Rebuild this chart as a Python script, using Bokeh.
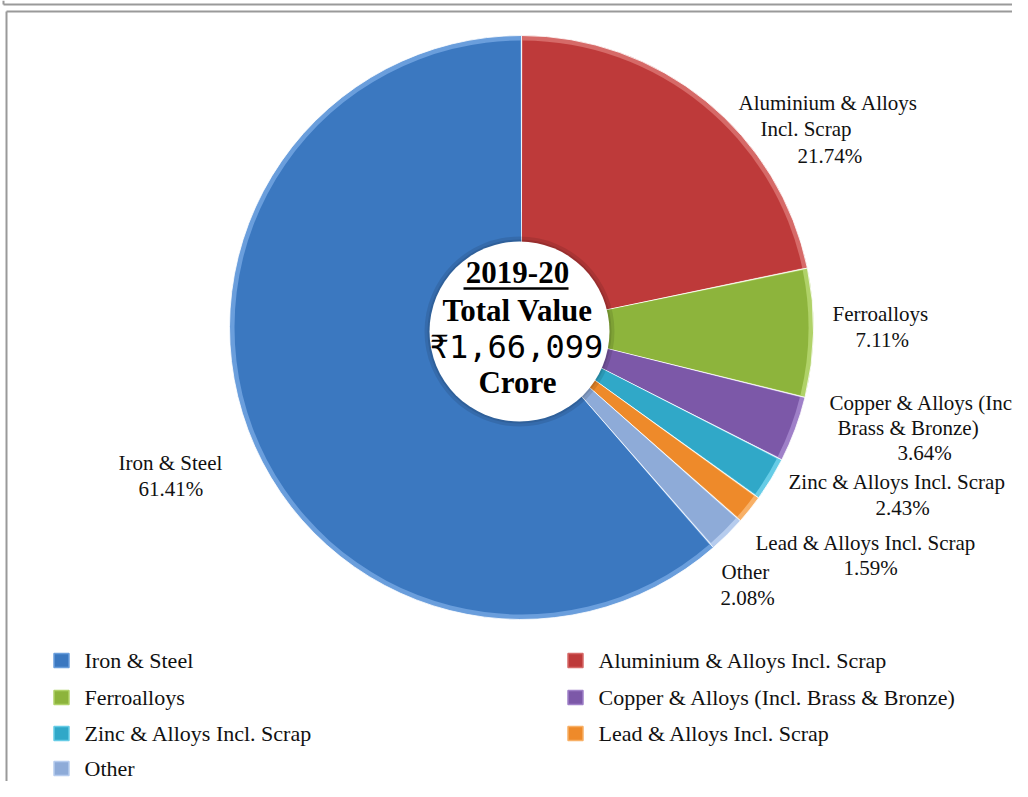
import math
from bokeh.plotting import figure
from bokeh.models import Range1d
from bokeh.embed import file_html
from bokeh.resources import INLINE
from bokeh.core.properties import value

# ---- data ----
categories = ["Aluminium & Alloys Incl. Scrap", "Ferroalloys",
              "Copper & Alloys (Incl. Brass & Bronze)", "Zinc & Alloys Incl. Scrap",
              "Lead & Alloys Incl. Scrap", "Other", "Iron & Steel"]
shares = [21.74, 7.11, 3.64, 2.43, 1.59, 2.08, 61.41]
label_names = [["Aluminium & Alloys", "Incl. Scrap"], ["Ferroalloys"],
               ["Copper & Alloys (Incl.", "Brass & Bronze)"], ["Zinc & Alloys Incl. Scrap"],
               ["Lead & Alloys Incl. Scrap"], ["Other"], ["Iron & Steel"]]
legend_order = ["Iron & Steel", "Aluminium & Alloys Incl. Scrap", "Ferroalloys",
                "Copper & Alloys (Incl. Brass & Bronze)", "Zinc & Alloys Incl. Scrap",
                "Lead & Alloys Incl. Scrap", "Other"]
center_lines = ["2019-20", "Total Value", "\u20b91,66,099", "Crore"]

# ---- styles / layout ----
colors = {"Aluminium & Alloys Incl. Scrap": "#BE3A3A", "Ferroalloys": "#8DB43C",
          "Copper & Alloys (Incl. Brass & Bronze)": "#7C58A8", "Zinc & Alloys Incl. Scrap": "#30A8C8",
          "Lead & Alloys Incl. Scrap": "#EE8A2A", "Other": "#8EABD8", "Iron & Steel": "#3B78C0"}
light = {"Aluminium & Alloys Incl. Scrap": "#D66A68", "Ferroalloys": "#B0D268",
         "Copper & Alloys (Incl. Brass & Bronze)": "#9F80C8", "Zinc & Alloys Incl. Scrap": "#66CCE6",
         "Lead & Alloys Incl. Scrap": "#F8B066", "Other": "#B6CCEE", "Iron & Steel": "#6A9EDC"}
CX, CY, R = 521, 327, 292
HX, HY, HR = 519, 331, 90
# label line anchors (left x, center y) per category
label_pos = [[(738, 102), (760, 128), (797, 155)],
             [(832, 313), (855, 339)],
             [(829, 402), (837, 427), (897, 452)],
             [(788, 481), (875, 507)],
             [(755, 542), (843, 567)],
             [(721, 571), (720, 597)],
             [(118, 462), (138, 488)]]
legend_pos = [(61, 660), (575, 660), (61, 697), (575, 697), (61, 733), (575, 733), (61, 768)]
LABEL_FS = "21px"
LEGEND_FS = "22px"

W, H = 1012, 781
p = figure(width=W, height=H, output_backend="svg", toolbar_location=None,
           x_range=Range1d(0, W), y_range=Range1d(-H, 0),
           x_axis_location=None, y_axis_location=None, min_border=0)
p.grid.visible = False
p.outline_line_color = None
p.background_fill_color = "white"
p.border_fill_color = "white"

# frame lines
p.segment(x0=[3, 3, 6, 6], y0=[-4, 0, -11, -11], x1=[W, 3, W, 6], y1=[-4, -4, -11, -H],
          line_color="#9a9a9a", line_width=2)

# pie
total = sum(shares)
cum = 0.0
for cat, s in zip(categories, shares):
    a0 = math.pi / 2 - cum / total * 2 * math.pi
    cum += s
    a1 = math.pi / 2 - cum / total * 2 * math.pi
    p.wedge(x=[CX], y=[-CY], radius=R, start_angle=a0, end_angle=a1, direction="clock",
            fill_color=light[cat], line_color="#ffffff", line_width=0.8)
    p.wedge(x=[CX], y=[-CY], radius=R - 5, start_angle=a0 - 0.004, end_angle=a1 + 0.004,
            direction="clock", fill_color=colors[cat], line_color=None)

# hole with soft shadow
p.circle(x=[HX], y=[-HY], radius=HR + 5, fill_color="#000000", fill_alpha=0.10, line_color=None)
p.circle(x=[HX], y=[-HY], radius=HR + 2, fill_color="#000000", fill_alpha=0.10, line_color=None)
p.circle(x=[HX], y=[-HY], radius=HR, fill_color="white", line_color=None)

# center text
cy_lines = [272, 310, 346, 382]
for i, (t, yy) in enumerate(zip(center_lines, cy_lines)):
    if i == 2:
        p.text(x=[HX - 3], y=[-yy], text=[t], text_font=value("DejaVu Sans Mono"),
               text_font_size="32px", text_align="center", text_baseline="middle", text_color="black")
    else:
        p.text(x=[HX - 2], y=[-yy], text=[t], text_font=value("Liberation Serif"),
               text_font_style="bold", text_font_size="31px", text_align="center",
               text_baseline="middle", text_color="black")
p.segment(x0=[463], y0=[-288], x1=[568], y1=[-288], line_color="black", line_width=2.5)

# slice labels
for names, s, pos in zip(label_names, shares, label_pos):
    lines = names + [f"{s:.2f}%"]
    for t, (lx, ly) in zip(lines, pos):
        p.text(x=[lx], y=[-ly], text=[t], text_font=value("Liberation Serif"),
               text_font_size=LABEL_FS, text_align="left", text_baseline="middle",
               text_color="#111111")

# legend
for cat, (lx, ly) in zip(legend_order, legend_pos):
    p.rect(x=[lx], y=[-ly], width=15, height=14, fill_color=colors[cat],
           line_color=light[cat], line_width=1.5)
    p.text(x=[lx + 23], y=[-ly], text=[cat], text_font=value("Liberation Serif"),
           text_font_size=LEGEND_FS, text_align="left", text_baseline="middle", text_color="#111111")

open("out.html", "w").write(file_html(p, INLINE))
